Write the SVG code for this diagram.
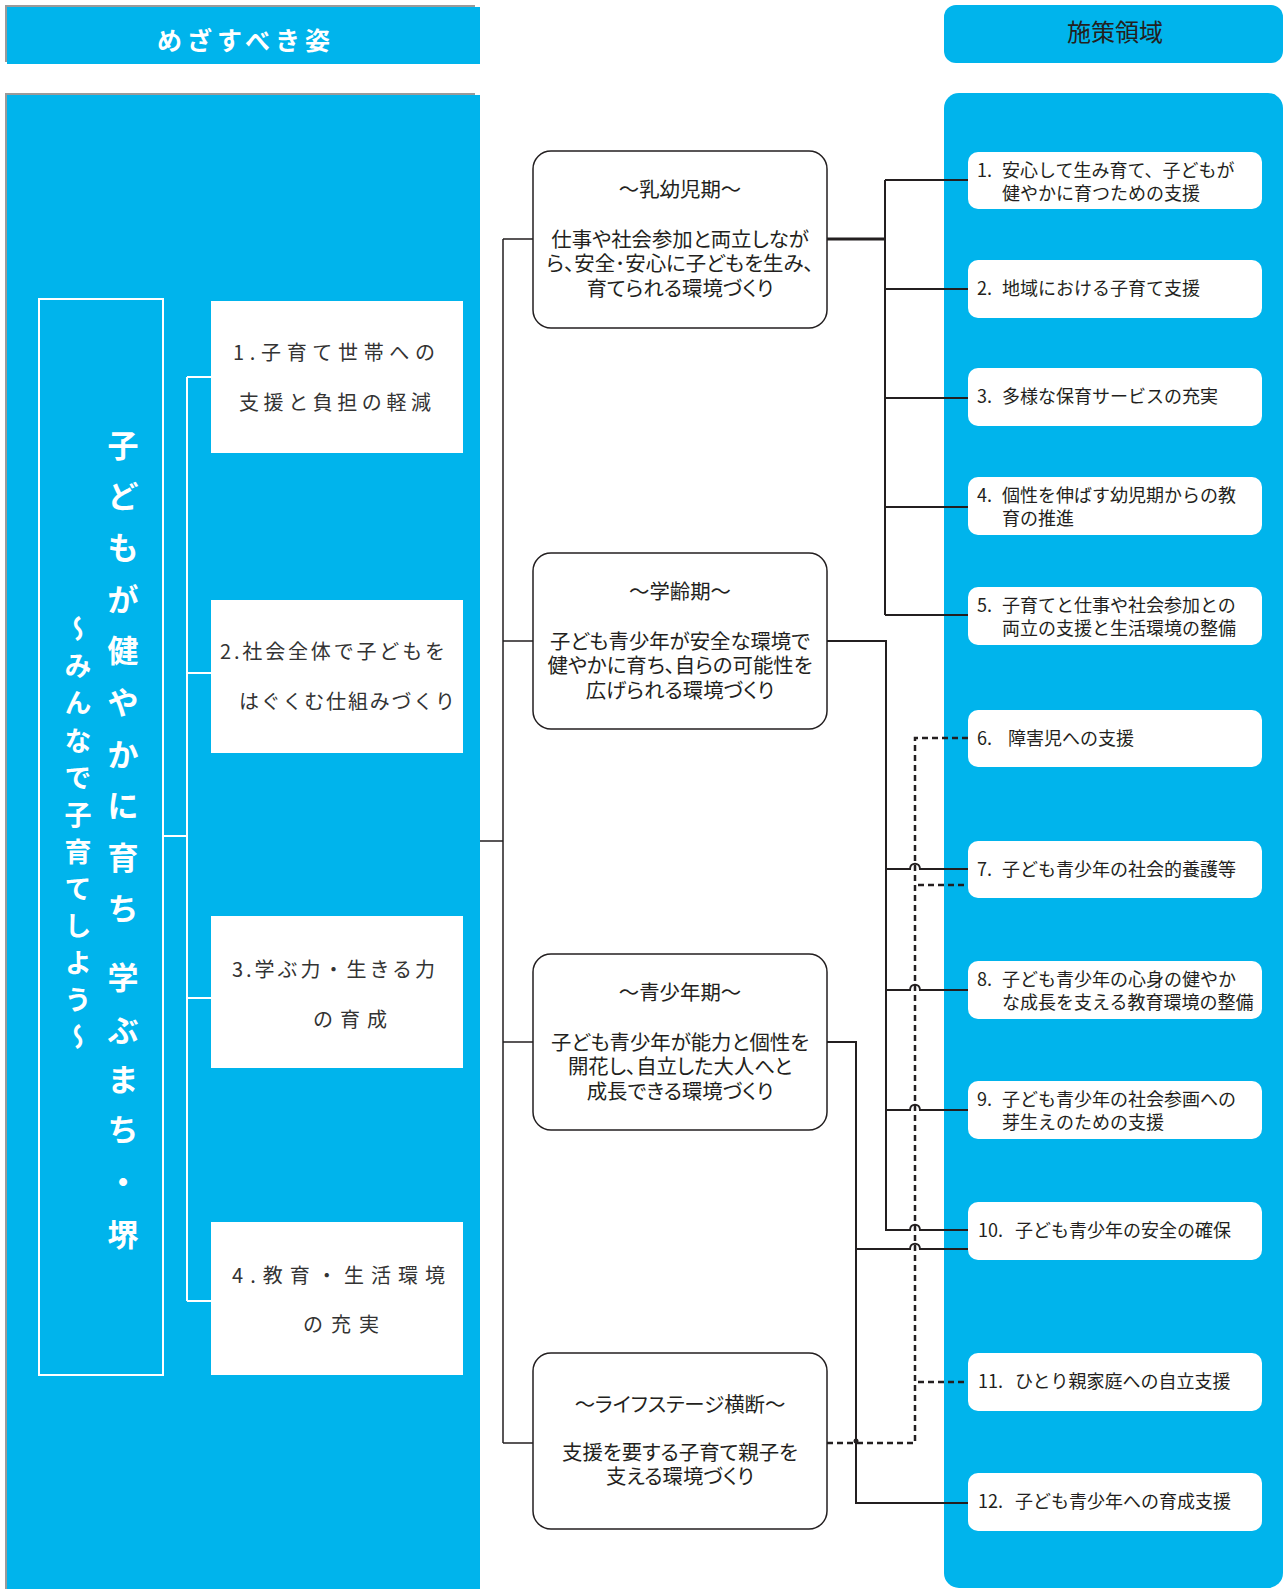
<svg xmlns="http://www.w3.org/2000/svg" width="1285" height="1589" viewBox="0 0 1285 1589">
<defs>
<style>
.bg{fill:#fff}
.blue{fill:#00b4ec}
.shadow{fill:#9a9a9a}
.mid{fill:#fff;stroke:#231f20;stroke-width:1.5}
.rbox{fill:#fff}
.lbox{fill:#fff}
.jp{font-family:"Noto Sans CJK JP","Noto Sans CJK SC",sans-serif}
.tm{font-size:20.4px;fill:#231f20;text-anchor:middle;font-feature-settings:"palt"}
.tr{font-size:18px;fill:#231f20}
.tl{font-size:20px;fill:#333}
.wt{fill:#fff;font-weight:bold}
.c{fill:none;stroke:#231f20;stroke-width:2}
.thin{stroke-width:1.5}
.thick{stroke-width:3}
.dash{stroke-dasharray:6 4;stroke-width:2.5}
.wl{fill:none;stroke:#fff;stroke-width:2}
</style>
</defs>
<rect class="bg" x="0" y="0" width="1285" height="1589"/>

<g id="header-left">
<rect class="shadow" x="5" y="5" width="470" height="57"/>
<rect class="blue" x="7" y="7" width="473" height="57"/>
<text class="jp wt" x="157" y="50" font-size="25" textLength="173" lengthAdjust="spacing">めざすべき姿</text>
</g>

<g id="panel-left">
<rect class="shadow" x="5" y="93" width="470" height="1496"/>
<rect class="blue" x="7" y="95" width="473" height="1494"/>
</g>

<g id="header-right">
<rect class="blue" x="944" y="5" width="339" height="58" rx="12"/>
<text class="jp" x="1115" y="41" font-size="24" fill="#231f20" text-anchor="middle">施策領域</text>
</g>

<g id="panel-right">
<rect class="blue" x="944" y="93" width="339" height="1495" rx="15"/>
</g>

<g id="connectors">
<path class="wl" d="M187,377 V1301 M187,377 H211 M187,673 H211 M187,998 H211 M187,1301 H211 M163,836 H187"/>
<path class="c thin" d="M480,841 H503 M503,239 V1443 M503,239 H533 M503,641 H533 M503,1042 H533 M503,1443 H533"/>
<path class="c thick" d="M827,239 H885"/>
<path class="c" d="M885,180 V615 M885,180 H968 M885,289 H968 M885,398 H968 M885,507 H968 M885,615 H968"/>
<path class="c" d="M827,641 H886 V1230 H910 c0,-7 10,-7 10,0 H968 M886,869 H910 c0,-7 10,-7 10,0 H968 M886,990 H910 c0,-7 10,-7 10,0 H968 M886,1110 H910 c0,-7 10,-7 10,0 H968"/>
<path class="c" d="M827,1042 H856 V1503 H968 M856,1249 H910 c0,-7 10,-7 10,0 H968"/>
<path class="c dash" d="M827,1443 H915 V738 H968 M918,885 H968 M918,1382 H968"/>
<circle cx="856" cy="1441" r="2.5" fill="#231f20"/>
</g>

<g id="vision">
<rect x="39" y="299" width="124" height="1076" fill="none" stroke="#fff" stroke-width="2"/>
<text class="jp wt" font-size="31" text-anchor="middle" dominant-baseline="central" x="123 123 123 123 123 123 123 123 123 123 123 123 123 123 123 123 123" y="443 494 545 597 648 700 752 803 855 906 940 975 1028 1077 1127 1179 1232">子どもが健やかに育ち 学ぶまち・堺</text>
<text class="jp wt" font-size="27" style="writing-mode:vertical-rl" x="78" y="615.5" letter-spacing="10.1">～みんなで子育てしよう～</text>
</g>

<g id="goal-1">
<rect class="lbox" x="211" y="301" width="252" height="152"/>
<text class="jp tl" x="233" y="360" textLength="202" lengthAdjust="spacing">1.子育て世帯への</text>
<text class="jp tl" x="239" y="410" textLength="192" lengthAdjust="spacing">支援と負担の軽減</text>
</g>
<g id="goal-2">
<rect class="lbox" x="211" y="600" width="252" height="153"/>
<text class="jp tl" x="220" y="659" textLength="225" lengthAdjust="spacing">2.社会全体で子どもを</text>
<text class="jp tl" x="239" y="709" textLength="216" lengthAdjust="spacing">はぐくむ仕組みづくり</text>
</g>
<g id="goal-3">
<rect class="lbox" x="211" y="916" width="252" height="152"/>
<text class="jp tl" x="232" y="977" textLength="203" lengthAdjust="spacing">3.学ぶ力・生きる力</text>
<text class="jp tl" x="313" y="1027" textLength="74" lengthAdjust="spacing">の育成</text>
</g>
<g id="goal-4">
<rect class="lbox" x="211" y="1222" width="252" height="153"/>
<text class="jp tl" x="232" y="1283" textLength="213" lengthAdjust="spacing">4.教育・生活環境</text>
<text class="jp tl" x="303" y="1332" textLength="76" lengthAdjust="spacing">の充実</text>
</g>

<g id="stage-infant">
<rect class="mid" x="533" y="151" width="294" height="177" rx="18"/>
<text class="jp tm" x="680" y="196.5">～乳幼児期～</text>
<text class="jp tm"><tspan x="680" y="246.5">仕事や社会参加と両立しなが</tspan><tspan x="680" y="271">ら、安全･安心に子どもを生み、</tspan><tspan x="680" y="295.5">育てられる環境づくり</tspan></text>
</g>
<g id="stage-school">
<rect class="mid" x="533" y="553" width="294" height="176" rx="18"/>
<text class="jp tm" x="680" y="598.5">～学齢期～</text>
<text class="jp tm"><tspan x="680" y="648.5">子ども青少年が安全な環境で</tspan><tspan x="680" y="673">健やかに育ち、自らの可能性を</tspan><tspan x="680" y="697.5">広げられる環境づくり</tspan></text>
</g>
<g id="stage-youth">
<rect class="mid" x="533" y="954" width="294" height="176" rx="18"/>
<text class="jp tm" x="680" y="999.5">～青少年期～</text>
<text class="jp tm"><tspan x="680" y="1049.5">子ども青少年が能力と個性を</tspan><tspan x="680" y="1074">開花し、自立した大人へと</tspan><tspan x="680" y="1098.5">成長できる環境づくり</tspan></text>
</g>
<g id="stage-cross">
<rect class="mid" x="533" y="1353" width="294" height="176" rx="18"/>
<text class="jp tm" x="680" y="1411.5">～ライフステージ横断～</text>
<text class="jp tm"><tspan x="680" y="1459.5">支援を要する子育て親子を</tspan><tspan x="680" y="1484">支える環境づくり</tspan></text>
</g>

<g id="area-1">
<rect class="rbox" x="968" y="152" width="294" height="57" rx="10"/>
<text class="jp tr"><tspan x="977" y="176.5">1.</tspan><tspan x="1002" y="176.5">安心して生み育て、子どもが</tspan><tspan x="1002" y="200">健やかに育つための支援</tspan></text>
</g>
<g id="area-2">
<rect class="rbox" x="968" y="260" width="294" height="58" rx="10"/>
<text class="jp tr"><tspan x="977" y="295">2.</tspan><tspan x="1002" y="295">地域における子育て支援</tspan></text>
</g>
<g id="area-3">
<rect class="rbox" x="968" y="368" width="294" height="58" rx="10"/>
<text class="jp tr"><tspan x="977" y="403">3.</tspan><tspan x="1002" y="403">多様な保育サービスの充実</tspan></text>
</g>
<g id="area-4">
<rect class="rbox" x="968" y="477" width="294" height="58" rx="10"/>
<text class="jp tr"><tspan x="977" y="501.5">4.</tspan><tspan x="1002" y="501.5">個性を伸ばす幼児期からの教</tspan><tspan x="1002" y="525">育の推進</tspan></text>
</g>
<g id="area-5">
<rect class="rbox" x="968" y="587" width="294" height="58" rx="10"/>
<text class="jp tr"><tspan x="977" y="611.5">5.</tspan><tspan x="1002" y="611.5">子育てと仕事や社会参加との</tspan><tspan x="1002" y="635">両立の支援と生活環境の整備</tspan></text>
</g>
<g id="area-6">
<rect class="rbox" x="968" y="710" width="294" height="57" rx="10"/>
<text class="jp tr"><tspan x="977" y="745">6.</tspan><tspan x="1008" y="745">障害児への支援</tspan></text>
</g>
<g id="area-7">
<rect class="rbox" x="968" y="841" width="294" height="57" rx="10"/>
<text class="jp tr"><tspan x="977" y="876">7.</tspan><tspan x="1002" y="876">子ども青少年の社会的養護等</tspan></text>
</g>
<g id="area-8">
<rect class="rbox" x="968" y="961" width="294" height="58" rx="10"/>
<text class="jp tr"><tspan x="977" y="985.5">8.</tspan><tspan x="1002" y="985.5">子ども青少年の心身の健やか</tspan><tspan x="1002" y="1009">な成長を支える教育環境の整備</tspan></text>
</g>
<g id="area-9">
<rect class="rbox" x="968" y="1081" width="294" height="58" rx="10"/>
<text class="jp tr"><tspan x="977" y="1105.5">9.</tspan><tspan x="1002" y="1105.5">子ども青少年の社会参画への</tspan><tspan x="1002" y="1129">芽生えのための支援</tspan></text>
</g>
<g id="area-10">
<rect class="rbox" x="968" y="1202" width="294" height="58" rx="10"/>
<text class="jp tr"><tspan x="978" y="1237">10.</tspan><tspan x="1015" y="1237">子ども青少年の安全の確保</tspan></text>
</g>
<g id="area-11">
<rect class="rbox" x="968" y="1353" width="294" height="58" rx="10"/>
<text class="jp tr"><tspan x="978" y="1388">11.</tspan><tspan x="1015" y="1388">ひとり親家庭への自立支援</tspan></text>
</g>
<g id="area-12">
<rect class="rbox" x="968" y="1473" width="294" height="58" rx="10"/>
<text class="jp tr"><tspan x="978" y="1508">12.</tspan><tspan x="1015" y="1508">子ども青少年への育成支援</tspan></text>
</g>
</svg>
